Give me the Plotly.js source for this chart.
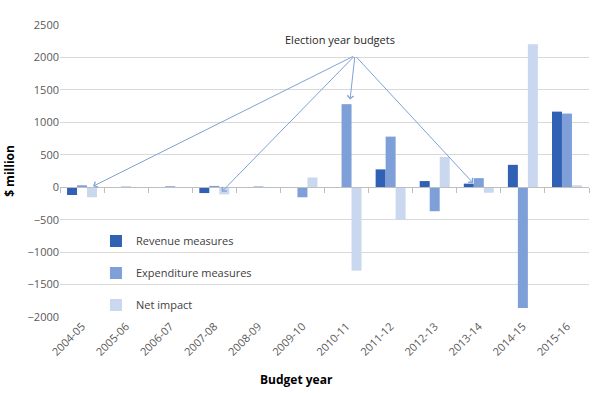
<!DOCTYPE html>
<html>
<head>
<meta charset="utf-8">
<script src="https://cdn.plot.ly/plotly-3.0.1.min.js"></script>
<style>html,body{margin:0;padding:0;background:#fff;}#chart{width:602px;height:393px;}</style>
</head>
<body>
<div id="chart"></div>
<script>
const years = ["2004-05","2005-06","2006-07","2007-08","2008-09","2009-10","2010-11","2011-12","2012-13","2013-14","2014-15","2015-16"];
const revenue = [-120, 0, 0, -90, 0, 0, 0, 275, 95, 55, 345, 1165];
const expenditure = [30, 10, 15, 20, 12, -155, 1280, 780, -370, 140, -1860, 1135];
const netImpact = [-155, -5, -10, -110, 5, 150, -1285, -505, 465, -85, 2205, 30];
const seriesNames = ["Revenue measures", "Expenditure measures", "Net impact"];
const colors = ["#3161b5", "#7f9fd9", "#c9d7ef"];
const yTicks = [-2000, -1500, -1000, -500, 0, 500, 1000, 1500, 2000, 2500];
// Election year annotation: label and arrow targets (category index, value)
const electionLabel = "Election year budgets";
const arrowTargets = [[0.25, 15], [3.17, -70], [6.08, 1350], [8.87, 66]];
const arrowTail = [6.19, 2030];

const font = "'Open Sans', 'Noto Sans', sans-serif";
const yMin = -2000, yMax = 2500;

const traces = [revenue, expenditure, netImpact].map((vals, i) => ({
  type: 'bar', x: years, y: vals, name: seriesNames[i],
  marker: {color: colors[i]}, legendgroup: 'g' + i, hoverinfo: 'x+y'
}));
// invisible trace to drive the axis line with boundary ticks at y = 0
traces.push({type: 'bar', x: years, y: years.map(() => 0), xaxis: 'x2', showlegend: false, hoverinfo: 'skip', marker: {color: 'rgba(0,0,0,0)'}});

const annotations = arrowTargets.map(t => ({
  x: t[0], y: t[1], xref: 'x', yref: 'y', ax: arrowTail[0], ay: arrowTail[1], axref: 'x', ayref: 'y',
  showarrow: true, arrowhead: 4, arrowsize: 1.2, arrowwidth: 1, arrowcolor: '#7fa2d6', text: ''
}));
annotations.push({x: (340 - 60) / 529, xref: 'paper', y: 2270, yref: 'y', text: electionLabel, showarrow: false,
  font: {family: font, size: 11, color: '#262626'}, xanchor: 'center', yanchor: 'middle'});
annotations.push({x: 0.448, xref: 'paper', y: -0.215, yref: 'paper', text: '<b>Budget year</b>', showarrow: false,
  font: {family: font, size: 12, color: '#000'}, xanchor: 'center', yanchor: 'middle'});

const layout = {
  width: 602, height: 393,
  margin: {l: 60, r: 13, t: 25, b: 76},
  paper_bgcolor: '#fff', plot_bgcolor: '#fff',
  font: {family: font, size: 11, color: '#595959'},
  barmode: 'group', bargap: 0.32, bargroupgap: 0,
  xaxis: {type: 'category', categoryarray: years, tickangle: -45, showgrid: false, showline: false,
    ticks: '', zeroline: false, tickfont: {family: font, size: 11, color: '#595959'}, fixedrange: true},
  xaxis2: {type: 'category', categoryarray: years, overlaying: 'x', anchor: 'free',
    position: (0 - yMin) / (yMax - yMin), side: 'bottom', showline: true, linecolor: '#bfbfbf', linewidth: 1,
    ticks: 'outside', tickson: 'boundaries', ticklen: 5, tickcolor: '#bfbfbf', showticklabels: false,
    showgrid: false, zeroline: false},
  yaxis: {range: [yMin, yMax], tickvals: yTicks, showgrid: true, gridcolor: '#d9d9d9', gridwidth: 1,
    zeroline: false, showline: false, ticks: '', tickfont: {family: font, size: 11, color: '#595959'},
    title: {text: '<b>$ million</b>', font: {family: font, size: 12, color: '#000'}, standoff: 10}},
  legend: {x: 0.068, y: 0.31, xanchor: 'left', yanchor: 'top', bgcolor: 'rgba(0,0,0,0)',
    tracegroupgap: 13, font: {family: font, size: 11, color: '#404040'}, itemwidth: 30},
  showlegend: true,
  annotations: annotations
};

Plotly.newPlot('chart', traces, layout, {displayModeBar: false, staticPlot: true});
</script>
</body>
</html>
